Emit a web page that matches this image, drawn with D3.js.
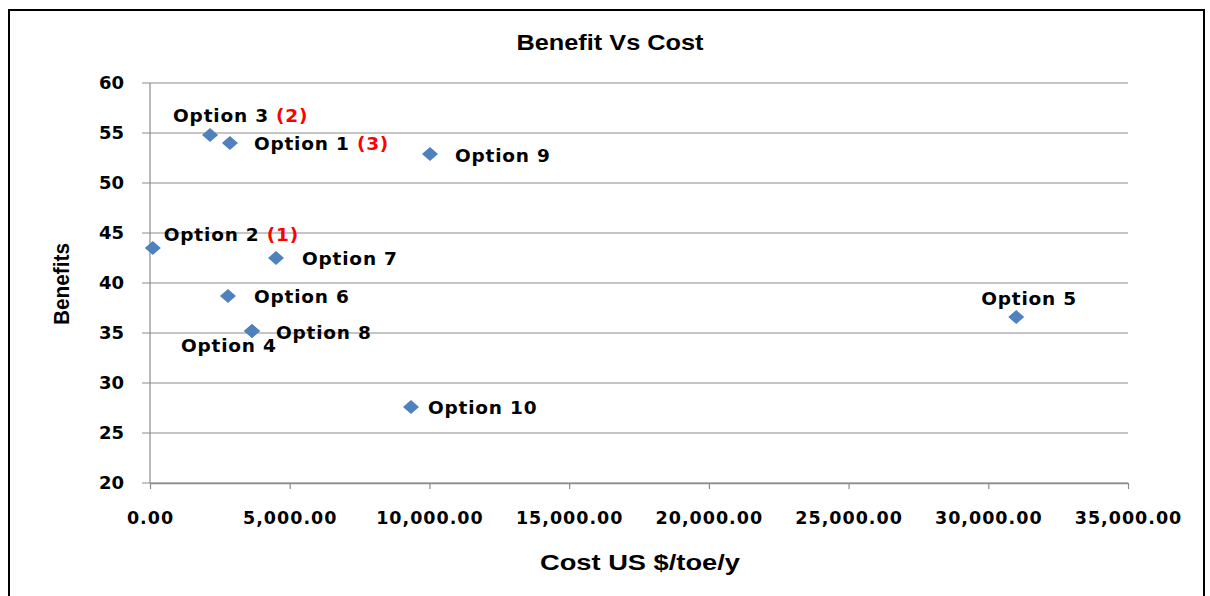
<!DOCTYPE html>
<html>
<head>
<meta charset="utf-8">
<script src="https://cdn.jsdelivr.net/npm/d3@7"></script>
<style>
  body { margin: 0; background: #fff; }
  svg text { fill: #000; }
</style>
</head>
<body>
<div id="chart"></div>
<script>
// data
var names    = ["Option 1", "Option 2", "Option 3", "Option 4", "Option 5", "Option 6", "Option 7", "Option 8", "Option 9", "Option 10"];
var ranks    = ["(3)", "(1)", "(2)", "", "", "", "", "", "", ""];
var costs    = [2860, 100, 2150, 3650, 31000, 2790, 4510, 3650, 10020, 9340];
var benefits = [54.0, 43.5, 54.8, 35.2, 36.6, 38.7, 42.5, 35.2, 52.9, 27.6];
var xTicks = [0, 5000, 10000, 15000, 20000, 25000, 30000, 35000];
var yTicks = [20, 25, 30, 35, 40, 45, 50, 55, 60];

// where each label sits relative to its marker
var labelOffset = {
  "Option 1": [24, 7], "Option 2": [11, -7], "Option 3": [-37, -13],
  "Option 4": [-71, 21], "Option 5": [-35, -12], "Option 6": [26, 7],
  "Option 7": [26, 7], "Option 8": [24, 8], "Option 9": [25, 8], "Option 10": [17, 7]
};

var W = 1210, H = 596;
var plotL = 150, plotR = 1128, plotT = 83, plotB = 483;

var svg = d3.select("#chart").append("svg")
  .attr("width", W).attr("height", H);

// outer frame
svg.append("rect")
  .attr("x", 9).attr("y", 10).attr("width", 1195).attr("height", 600)
  .attr("fill", "none").attr("stroke", "#000").attr("stroke-width", 2);

var x = d3.scaleLinear().domain([0, 35000]).range([plotL, plotR]);
var y = d3.scaleLinear().domain([20, 60]).range([plotB, plotT]);

var grid = "#8c8c8c";

// horizontal gridlines
svg.append("g").selectAll("line")
  .data(yTicks).enter().append("line")
  .attr("x1", plotL - 8).attr("x2", plotR)
  .attr("y1", function(d) { return y(d); })
  .attr("y2", function(d) { return y(d); })
  .attr("stroke", grid).attr("stroke-width", 1.2);

// y axis line
svg.append("line")
  .attr("x1", plotL).attr("x2", plotL).attr("y1", plotT).attr("y2", plotB)
  .attr("stroke", grid).attr("stroke-width", 1.2);

// x axis with tick marks
var xAxis = svg.append("g")
  .attr("transform", "translate(0," + plotB + ")")
  .call(d3.axisBottom(x).tickValues(xTicks).tickSize(6).tickSizeOuter(0)
    .tickFormat(d3.format(",.2f")));
xAxis.select(".domain").attr("stroke", grid).attr("stroke-width", 1.6);
xAxis.selectAll(".tick line").attr("stroke", grid).attr("stroke-width", 1.2);
xAxis.selectAll(".tick text")
  .attr("y", 29)
  .style("font-family", "DejaVu Sans").style("font-weight", "bold")
  .style("font-size", "17.5px").style("letter-spacing", "1px");

// y tick labels
svg.append("g").selectAll("text")
  .data(yTicks).enter().append("text")
  .attr("x", 124)
  .attr("y", function(d) { return y(d); })
  .attr("dy", "0.36em")
  .attr("text-anchor", "end")
  .style("font-family", "DejaVu Sans").style("font-weight", "bold").style("font-size", "18px")
  .text(function(d) { return d; });

// titles
svg.append("text")
  .attr("x", 610).attr("y", 50).attr("text-anchor", "middle")
  .attr("textLength", 187).attr("lengthAdjust", "spacingAndGlyphs")
  .style("font-family", "Liberation Sans").style("font-weight", "bold").style("font-size", "22px")
  .text("Benefit  Vs Cost");

svg.append("text")
  .attr("x", 640).attr("y", 570).attr("text-anchor", "middle")
  .attr("textLength", 200).attr("lengthAdjust", "spacingAndGlyphs")
  .style("font-family", "Liberation Sans").style("font-weight", "bold").style("font-size", "22px")
  .text("Cost  US $/toe/y");

svg.append("text")
  .attr("transform", "translate(69,284) rotate(-90)")
  .attr("text-anchor", "middle")
  .attr("textLength", 82).attr("lengthAdjust", "spacingAndGlyphs")
  .style("font-family", "Liberation Sans").style("font-weight", "bold").style("font-size", "22px")
  .text("Benefits");

var pts = names.map(function(n, i) {
  return { name: n, rank: ranks[i], cost: costs[i], benefit: benefits[i] };
});

// diamond markers
svg.append("g").selectAll("path")
  .data(pts).enter().append("path")
  .attr("d", "M0,-7L8,0L0,7L-8,0Z")
  .attr("transform", function(d) { return "translate(" + x(d.cost) + "," + y(d.benefit) + ")"; })
  .attr("fill", "#4f81bd");

// point labels
var lab = svg.append("g").selectAll("text")
  .data(pts).enter().append("text")
  .attr("x", function(d) { return x(d.cost) + labelOffset[d.name][0]; })
  .attr("y", function(d) { return y(d.benefit) + labelOffset[d.name][1]; })
  .style("font-family", "DejaVu Sans").style("font-weight", "bold")
  .style("font-size", "18.5px").style("letter-spacing", "0.8px");
lab.append("tspan").text(function(d) { return d.name; });
lab.append("tspan")
  .attr("fill", "#ff0000").style("fill", "#ff0000")
  .text(function(d) { return d.rank ? " " + d.rank : ""; });
</script>
</body>
</html>
